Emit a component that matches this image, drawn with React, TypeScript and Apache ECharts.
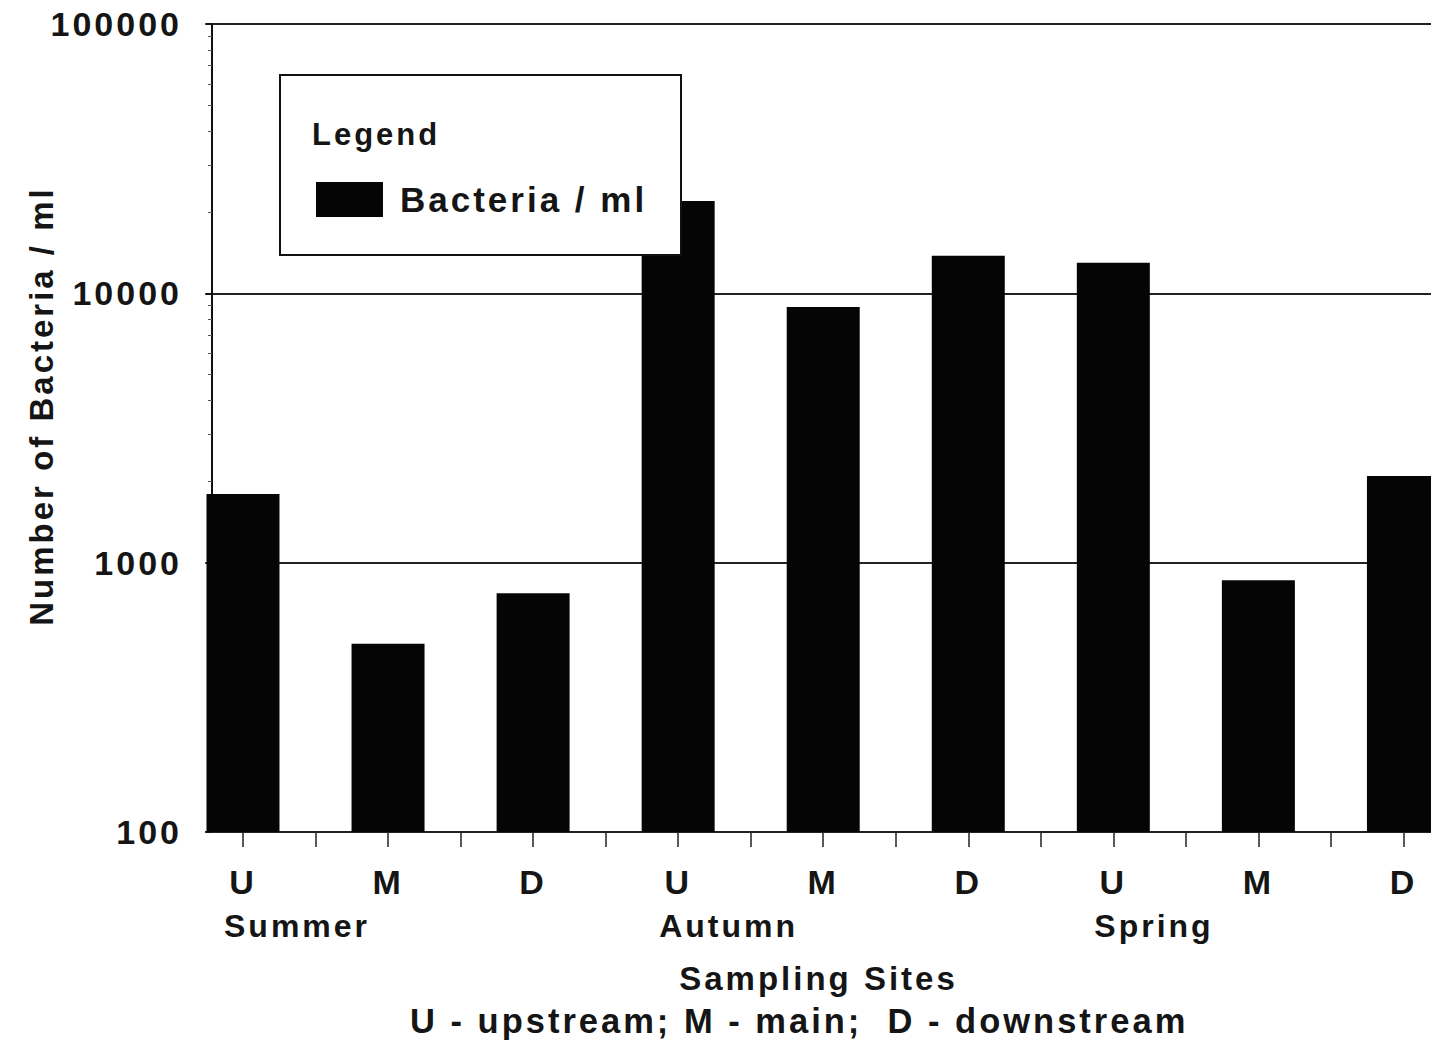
import React, { useEffect, useRef } from "react";
import * as echarts from "echarts";

const sites = ["U", "M", "D", "U", "M", "D", "U", "M", "D"];
const seasons = ["Summer", "Autumn", "Spring"];
const bacteriaPerMl = [1800, 500, 770, 22000, 8900, 13800, 13000, 860, 2100];
const xTickValues = [0, 0.5, 1, 1.5, 2, 2.5, 3, 3.5, 4, 4.5, 5, 5.5, 6, 6.5, 7, 7.5, 8];
const yMinorTicks = [200, 300, 400, 500, 600, 700, 800, 900, 2000, 3000, 4000, 5000, 6000, 7000, 8000, 9000, 20000, 30000, 40000, 50000, 60000, 70000, 80000, 90000];
const seriesName = "Bacteria / ml";
const legendTitle = "Legend";
const xTitle = "Sampling Sites";
const xSubtitle = "U - upstream; M - main;  D - downstream";
const yTitle = "Number of Bacteria / ml";

const FONT = "'Liberation Sans', Arial, Helvetica, sans-serif";
const WEIGHT = "bold";
const INK = "#151515";

export default function App() {
  const ref = useRef<HTMLDivElement>(null);
  useEffect(() => {
    document.body.style.margin = "0";
    const chart = echarts.init(ref.current!, null, { renderer: "svg" });
    const option: any = {
      animation: false,
      backgroundColor: "#fff",
      textStyle: { fontFamily: FONT, color: INK, fontWeight: WEIGHT },
      grid: { left: 206, right: 0, top: 24, bottom: 209, containLabel: false },
      title: {
        text: xSubtitle,
        left: 410,
        top: 1003,
        padding: 0,
        textStyle: { fontFamily: FONT, fontSize: 34.5, fontWeight: WEIGHT, color: INK },
      },
      legend: {
        data: [seriesName],
        left: 316,
        top: 182,
        padding: 0,
        itemWidth: 67,
        itemHeight: 35,
        icon: "rect",
        z: 30,
        textStyle: { fontFamily: FONT, fontSize: 35, fontWeight: WEIGHT, color: INK, padding: [12, 0, 0, 12] },
      },
      xAxis: {
        type: "value",
        min: -0.255,
        max: 8.19,
        axisLine: { show: true, onZero: false, lineStyle: { color: "#222", width: 1.5 } },
        axisTick: { show: true, customValues: xTickValues, length: 15, lineStyle: { color: "#222", width: 1.5 } },
        axisLabel: {
          customValues: sites.map((_, i) => i),
          formatter: (v: number) => sites[Math.round(v)],
          fontFamily: FONT,
          fontWeight: WEIGHT,
          fontSize: 34,
          color: INK,
          margin: 33,
        },
        splitLine: { show: false },
        name: xTitle,
        nameLocation: "middle",
        nameGap: 130,
        nameTextStyle: { fontFamily: FONT, fontWeight: WEIGHT, fontSize: 33, color: INK },
      },
      yAxis: [
        {
          type: "log",
          logBase: 10,
          min: 100,
          max: 100000,
          offset: -6,
          axisLine: { show: true, onZero: false, lineStyle: { color: "#111", width: 2 } },
          axisTick: { show: true, length: 7, lineStyle: { color: "#111", width: 1.5 } },
          axisLabel: {
            fontFamily: FONT,
            fontWeight: WEIGHT,
            fontSize: 34,
            color: INK,
            margin: 30,
            formatter: (v: number) => String(Math.round(v)),
          },
          splitLine: { show: true, lineStyle: { color: "#222", width: 2 } },
        },
        {
          type: "log",
          logBase: 10,
          min: 100,
          max: 100000,
          position: "left",
          offset: -6,
          axisLine: { show: false, onZero: false },
          axisTick: { show: true, customValues: yMinorTicks, length: 4, lineStyle: { color: "#555", width: 1 } },
          axisLabel: { show: false },
          splitLine: { show: false },
        },
      ],
      series: [
        {
          name: seriesName,
          type: "bar",
          barWidth: 73,
          clip: true,
          itemStyle: { color: "#050505" },
          data: bacteriaPerMl.map((v, i) => [i, v]),
          z: 2,
        },
      ],
    };
    chart.setOption(option);

    const seasonTexts = seasons.map((s, k) => {
      const p = chart.convertToPixel({ gridIndex: 0 }, [k * 3, 100]) as number[];
      return {
        type: "text",
        x: p[0] - 19,
        y: 926,
        z: 20,
        style: { text: s, fontFamily: FONT, fontWeight: WEIGHT, fontSize: 32, fill: INK, verticalAlign: "middle" },
      };
    });
    chart.setOption({
      graphic: [
        {
          type: "rect",
          z: 20,
          shape: { x: 280, y: 75, width: 401, height: 180 },
          style: { fill: "#fff", stroke: "#111", lineWidth: 2 },
        },
        {
          type: "text",
          z: 25,
          x: 312,
          y: 134,
          style: { text: legendTitle, fontFamily: FONT, fontWeight: WEIGHT, fontSize: 31, fill: INK, verticalAlign: "middle" },
        },
        {
          type: "text",
          z: 25,
          x: 41,
          y: 406,
          rotation: Math.PI / 2,
          style: { text: yTitle, fontFamily: FONT, fontWeight: WEIGHT, fontSize: 33, fill: INK, align: "center", verticalAlign: "middle" },
        },
        ...seasonTexts,
      ],
    });
    return () => chart.dispose();
  }, []);
  return (
    <>
      <style>{"#chart text { letter-spacing: 3px; }"}</style>
      <div id="chart" ref={ref} style={{ width: 1431, height: 1041 }} />
    </>
  );
}
